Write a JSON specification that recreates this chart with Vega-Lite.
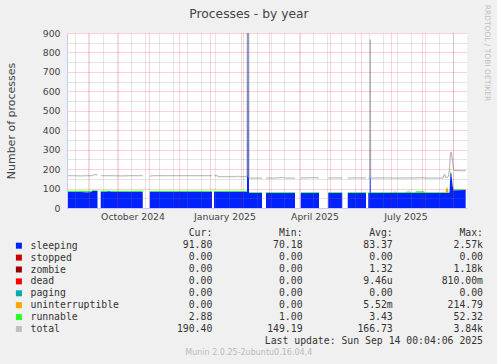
{
  "$schema": "https://vega.github.io/schema/vega-lite/v6.json",
  "width": 400,
  "height": 175,
  "autosize": {"type": "none"},
  "padding": {"left": 67, "top": 33, "right": 30, "bottom": 156},
  "background": "#f0f0f0",
  "config": {
    "view": {"fill": "#ffffff", "stroke": null},
    "axis": {"labelFont": "DejaVu Sans", "titleFont": "DejaVu Sans", "labelColor": "#444444", "titleColor": "#444444", "titleFontWeight": "normal", "domainColor": "#c8c8f0"}
  },
  "datasets": {
    "rank": [{"series": "sleeping", "rank": 0}, {"series": "uninterruptible", "rank": 1}, {"series": "runnable", "rank": 2}],
    "leg": [
      {"series": "header", "Cur": "Cur:\u00a0\u00a0", "Min": "Min:\u00a0\u00a0", "Avg": "Avg:\u00a0\u00a0", "Max": "Max:\u00a0\u00a0"},
      {"series": "sleeping", "Cur": "91.80\u00a0", "Min": "70.18\u00a0", "Avg": "83.37\u00a0", "Max": "2.57k"},
      {"series": "stopped", "Cur": "0.00\u00a0", "Min": "0.00\u00a0", "Avg": "0.00\u00a0", "Max": "0.00\u00a0"},
      {"series": "zombie", "Cur": "0.00\u00a0", "Min": "0.00\u00a0", "Avg": "1.32\u00a0", "Max": "1.18k"},
      {"series": "dead", "Cur": "0.00\u00a0", "Min": "0.00\u00a0", "Avg": "9.46u", "Max": "810.00m"},
      {"series": "paging", "Cur": "0.00\u00a0", "Min": "0.00\u00a0", "Avg": "0.00\u00a0", "Max": "0.00\u00a0"},
      {"series": "uninterruptible", "Cur": "0.00\u00a0", "Min": "0.00\u00a0", "Avg": "5.52m", "Max": "214.79\u00a0"},
      {"series": "runnable", "Cur": "2.88\u00a0", "Min": "1.00\u00a0", "Avg": "3.43\u00a0", "Max": "52.32\u00a0"},
      {"series": "total", "Cur": "190.40\u00a0", "Min": "149.19\u00a0", "Avg": "166.73\u00a0", "Max": "3.84k"},
      {"series": "update", "Max": "Last update: Sun Sep 14 00:04:06 2025"}
    ],
    "ts": [
      {"d": "2024-08-11T12:00:00Z", "g": 1, "sleeping": 82, "uninterruptible": 0, "runnable": 7, "total": 166},
      {"d": "2024-08-18T00:00:00Z", "g": 1, "sleeping": 82, "uninterruptible": 0, "runnable": 6, "total": 166},
      {"d": "2024-08-25T00:00:00Z", "g": 1, "sleeping": 82, "uninterruptible": 0, "runnable": 7, "total": 165},
      {"d": "2024-09-01T00:00:00Z", "g": 1, "sleeping": 81, "uninterruptible": 0, "runnable": 7, "total": 166},
      {"d": "2024-09-05T00:00:00Z", "g": 1, "sleeping": 82, "uninterruptible": 0, "runnable": 6, "total": 166},
      {"d": "2024-09-05T12:00:00Z", "g": 1, "sleeping": 88, "uninterruptible": 0, "runnable": 3, "total": 166},
      {"d": "2024-09-07T00:00:00Z", "g": 1, "sleeping": 88, "uninterruptible": 0, "runnable": 3, "total": 171},
      {"d": "2024-09-11T00:00:00Z", "g": 1, "sleeping": 88, "uninterruptible": 0, "runnable": 3, "total": 171},
      {"d": "2024-09-14T06:00:00Z", "g": 2, "sleeping": 82, "uninterruptible": 0, "runnable": 7, "total": 166},
      {"d": "2024-09-20T00:00:00Z", "g": 2, "sleeping": 82, "uninterruptible": 0, "runnable": 7, "total": 166},
      {"d": "2024-09-20T12:00:00Z", "g": 2, "sleeping": 86, "uninterruptible": 0, "runnable": 3, "total": 166},
      {"d": "2024-09-24T00:00:00Z", "g": 2, "sleeping": 86, "uninterruptible": 0, "runnable": 3, "total": 166},
      {"d": "2024-09-24T12:00:00Z", "g": 2, "sleeping": 82, "uninterruptible": 0, "runnable": 6, "total": 166},
      {"d": "2024-10-05T00:00:00Z", "g": 2, "sleeping": 82, "uninterruptible": 0, "runnable": 6, "total": 165},
      {"d": "2024-10-15T00:00:00Z", "g": 2, "sleeping": 82, "uninterruptible": 0, "runnable": 5, "total": 166},
      {"d": "2024-10-22T00:00:00Z", "g": 2, "sleeping": 82, "uninterruptible": 0, "runnable": 7, "total": 166},
      {"d": "2024-10-26T06:00:00Z", "g": 2, "sleeping": 82, "uninterruptible": 0, "runnable": 7, "total": 166},
      {"d": "2024-11-02T06:00:00Z", "g": 3, "sleeping": 82, "uninterruptible": 0, "runnable": 5, "total": 164},
      {"d": "2024-11-06T00:00:00Z", "g": 3, "sleeping": 82, "uninterruptible": 0, "runnable": 5, "total": 166},
      {"d": "2024-11-20T00:00:00Z", "g": 3, "sleeping": 82, "uninterruptible": 0, "runnable": 5, "total": 166},
      {"d": "2024-12-05T00:00:00Z", "g": 3, "sleeping": 82, "uninterruptible": 0, "runnable": 5, "total": 166},
      {"d": "2024-12-20T00:00:00Z", "g": 3, "sleeping": 82, "uninterruptible": 0, "runnable": 5, "total": 166},
      {"d": "2025-01-03T12:00:00Z", "g": 3, "sleeping": 82, "uninterruptible": 0, "runnable": 5, "total": 166},
      {"d": "2025-01-05T12:00:00Z", "g": 4, "sleeping": 82, "uninterruptible": 0, "runnable": 5, "total": 166},
      {"d": "2025-01-09T00:00:00Z", "g": 4, "sleeping": 82, "uninterruptible": 0, "runnable": 5, "total": 166},
      {"d": "2025-01-09T12:00:00Z", "g": 4, "sleeping": 82, "uninterruptible": 0, "runnable": 5, "total": 161},
      {"d": "2025-01-27T00:00:00Z", "g": 4, "sleeping": 82, "uninterruptible": 0, "runnable": 5, "total": 161},
      {"d": "2025-01-29T00:00:00Z", "g": 4, "sleeping": 82, "uninterruptible": 0, "runnable": 5, "total": 164},
      {"d": "2025-01-31T00:00:00Z", "g": 4, "sleeping": 82, "uninterruptible": 0, "runnable": 5, "total": 161},
      {"d": "2025-02-07T12:00:00Z", "g": 4, "sleeping": 82, "uninterruptible": 0, "runnable": 5, "total": 161},
      {"d": "2025-02-08T12:00:00Z", "g": 4, "sleeping": 2570, "uninterruptible": 0, "runnable": 5, "total": 3840},
      {"d": "2025-02-09T12:00:00Z", "g": 4, "sleeping": 77, "uninterruptible": 0, "runnable": 4, "total": 154},
      {"d": "2025-02-22T12:00:00Z", "g": 4, "sleeping": 77, "uninterruptible": 0, "runnable": 4, "total": 154},
      {"d": "2025-02-26T12:00:00Z", "g": 5, "sleeping": 77, "uninterruptible": 0, "runnable": 4, "total": 154},
      {"d": "2025-03-10T00:00:00Z", "g": 5, "sleeping": 77, "uninterruptible": 0, "runnable": 4, "total": 154},
      {"d": "2025-03-15T00:00:00Z", "g": 5, "sleeping": 77, "uninterruptible": 0, "runnable": 4, "total": 157},
      {"d": "2025-03-18T00:00:00Z", "g": 5, "sleeping": 77, "uninterruptible": 0, "runnable": 4, "total": 154},
      {"d": "2025-03-27T12:00:00Z", "g": 5, "sleeping": 77, "uninterruptible": 0, "runnable": 4, "total": 154},
      {"d": "2025-04-02T06:00:00Z", "g": 6, "sleeping": 77, "uninterruptible": 0, "runnable": 4, "total": 154},
      {"d": "2025-04-12T00:00:00Z", "g": 6, "sleeping": 77, "uninterruptible": 0, "runnable": 4, "total": 156},
      {"d": "2025-04-20T12:00:00Z", "g": 6, "sleeping": 77, "uninterruptible": 0, "runnable": 4, "total": 155},
      {"d": "2025-04-29T18:00:00Z", "g": 7, "sleeping": 77, "uninterruptible": 0, "runnable": 4, "total": 154},
      {"d": "2025-05-06T00:00:00Z", "g": 7, "sleeping": 77, "uninterruptible": 0, "runnable": 4, "total": 155},
      {"d": "2025-05-13T18:00:00Z", "g": 7, "sleeping": 77, "uninterruptible": 0, "runnable": 4, "total": 154},
      {"d": "2025-05-19T06:00:00Z", "g": 8, "sleeping": 77, "uninterruptible": 0, "runnable": 4, "total": 154},
      {"d": "2025-05-28T00:00:00Z", "g": 8, "sleeping": 77, "uninterruptible": 0, "runnable": 4, "total": 155},
      {"d": "2025-06-06T12:00:00Z", "g": 8, "sleeping": 77, "uninterruptible": 0, "runnable": 4, "total": 154},
      {"d": "2025-06-08T18:00:00Z", "g": 9, "sleeping": 77, "uninterruptible": 0, "runnable": 4, "total": 154},
      {"d": "2025-06-10T06:00:00Z", "g": 9, "sleeping": 77, "uninterruptible": 0, "runnable": 4, "total": 154},
      {"d": "2025-06-10T18:00:00Z", "g": 9, "sleeping": 780, "uninterruptible": 0, "runnable": 4, "total": 866},
      {"d": "2025-06-11T06:00:00Z", "g": 9, "sleeping": 77, "uninterruptible": 0, "runnable": 4, "total": 154},
      {"d": "2025-06-25T00:00:00Z", "g": 9, "sleeping": 77, "uninterruptible": 0, "runnable": 4, "total": 155},
      {"d": "2025-07-04T12:00:00Z", "g": 9, "sleeping": 77, "uninterruptible": 0, "runnable": 4, "total": 154},
      {"d": "2025-07-05T12:00:00Z", "g": 9, "sleeping": 77, "uninterruptible": 0, "runnable": 9, "total": 154},
      {"d": "2025-07-06T12:00:00Z", "g": 9, "sleeping": 77, "uninterruptible": 0, "runnable": 4, "total": 154},
      {"d": "2025-07-16T12:00:00Z", "g": 9, "sleeping": 77, "uninterruptible": 0, "runnable": 4, "total": 154},
      {"d": "2025-07-17T12:00:00Z", "g": 9, "sleeping": 77, "uninterruptible": 0, "runnable": 8, "total": 155},
      {"d": "2025-07-20T12:00:00Z", "g": 9, "sleeping": 77, "uninterruptible": 0, "runnable": 8, "total": 155},
      {"d": "2025-07-21T12:00:00Z", "g": 9, "sleeping": 77, "uninterruptible": 0, "runnable": 4, "total": 154},
      {"d": "2025-07-25T12:00:00Z", "g": 9, "sleeping": 77, "uninterruptible": 0, "runnable": 4, "total": 154},
      {"d": "2025-07-26T12:00:00Z", "g": 9, "sleeping": 77, "uninterruptible": 0, "runnable": 9, "total": 155},
      {"d": "2025-08-03T12:00:00Z", "g": 9, "sleeping": 77, "uninterruptible": 0, "runnable": 9, "total": 156},
      {"d": "2025-08-04T12:00:00Z", "g": 9, "sleeping": 77, "uninterruptible": 0, "runnable": 4, "total": 154},
      {"d": "2025-08-22T12:00:00Z", "g": 9, "sleeping": 77, "uninterruptible": 0, "runnable": 4, "total": 154},
      {"d": "2025-08-24T00:00:00Z", "g": 9, "sleeping": 77, "uninterruptible": 0, "runnable": 4, "total": 175},
      {"d": "2025-08-25T00:00:00Z", "g": 9, "sleeping": 77, "uninterruptible": 0, "runnable": 4, "total": 156},
      {"d": "2025-08-26T00:00:00Z", "g": 9, "sleeping": 77, "uninterruptible": 25, "runnable": 4, "total": 160},
      {"d": "2025-08-27T00:00:00Z", "g": 9, "sleeping": 77, "uninterruptible": 25, "runnable": 4, "total": 157},
      {"d": "2025-08-28T00:00:00Z", "g": 9, "sleeping": 77, "uninterruptible": 0, "runnable": 4, "total": 165},
      {"d": "2025-08-29T00:00:00Z", "g": 9, "sleeping": 80, "uninterruptible": 0, "runnable": 5, "total": 200},
      {"d": "2025-08-30T00:00:00Z", "g": 9, "sleeping": 185, "uninterruptible": 0, "runnable": 8, "total": 285},
      {"d": "2025-08-31T00:00:00Z", "g": 9, "sleeping": 170, "uninterruptible": 0, "runnable": 8, "total": 287},
      {"d": "2025-09-01T00:00:00Z", "g": 9, "sleeping": 120, "uninterruptible": 0, "runnable": 6, "total": 240},
      {"d": "2025-09-02T00:00:00Z", "g": 9, "sleeping": 91, "uninterruptible": 0, "runnable": 5, "total": 200},
      {"d": "2025-09-03T00:00:00Z", "g": 9, "sleeping": 91, "uninterruptible": 0, "runnable": 5, "total": 193},
      {"d": "2025-09-14T04:00:00Z", "g": 9, "sleeping": 92, "uninterruptible": 0, "runnable": 3, "total": 191}
    ]
  },
  "layer": [
    {
      "layer": [
        {
          "data": {"name": "ts"},
          "transform": [
            {"fold": ["sleeping", "uninterruptible", "runnable"], "as": ["series", "value"]},
            {"lookup": "series", "from": {"data": {"name": "rank"}, "key": "series", "fields": ["rank"]}}
          ],
          "mark": {"type": "area", "clip": true, "interpolate": "linear"},
          "encoding": {
            "x": {
              "field": "d", "type": "temporal",
              "scale": {"type": "utc", "domain": [{"year": 2024, "month": 8, "date": 11, "hours": 12, "utc": true}, {"year": 2025, "month": 9, "date": 15, "hours": 12, "utc": true}]},
              "axis": {
                "orient": "bottom", "labels": false, "ticks": false, "domain": false, "title": null, "zindex": 1,
                "grid": true, "gridColor": "#ff0000", "gridOpacity": 0.35, "gridDash": [1, 1],
                "values": [
                  {"year": 2024, "month": 9, "date": 1, "utc": true}, {"year": 2024, "month": 10, "date": 1, "utc": true},
                  {"year": 2024, "month": 11, "date": 1, "utc": true}, {"year": 2024, "month": 12, "date": 1, "utc": true},
                  {"year": 2025, "month": 1, "date": 1, "utc": true}, {"year": 2025, "month": 2, "date": 1, "utc": true},
                  {"year": 2025, "month": 3, "date": 1, "utc": true}, {"year": 2025, "month": 4, "date": 1, "utc": true},
                  {"year": 2025, "month": 5, "date": 1, "utc": true}, {"year": 2025, "month": 6, "date": 1, "utc": true},
                  {"year": 2025, "month": 7, "date": 1, "utc": true}, {"year": 2025, "month": 8, "date": 1, "utc": true},
                  {"year": 2025, "month": 9, "date": 1, "utc": true}
                ]
              }
            },
            "y": {
              "field": "value", "type": "quantitative", "stack": "zero", "impute": null,
              "scale": {"domain": [0, 900], "nice": false},
              "axis": {
                "orient": "left", "values": [0, 100, 200, 300, 400, 500, 600, 700, 800, 900],
                "grid": true, "gridColor": "#ff0000", "gridOpacity": 0.35, "gridDash": [1, 1],
                "ticks": false, "labelPadding": 7, "labelFontSize": 9.3, "domain": true, "domainColor": "#c8c8f0",
                "title": "Number of processes", "titleFontSize": 11, "titleX": -52.7, "titleY": 87.5, "titleAngle": 270,
                "titleBaseline": "alphabetic", "titleAlign": "center", "zindex": 1
              }
            },
            "color": {
              "field": "series", "type": "nominal",
              "scale": {
                "domain": ["sleeping", "stopped", "zombie", "dead", "paging", "uninterruptible", "runnable", "total"],
                "range": ["#0022ff", "#cc0000", "#990000", "#ff0000", "#00aaaa", "#ffa500", "#22ff22", "#c0c0c0"]
              },
              "legend": {
                "orient": "none", "legendX": -53, "legendY": 207.8, "direction": "vertical", "title": null,
                "symbolType": "square", "symbolSize": 36, "symbolStrokeWidth": 0, "symbolOpacity": 1,
                "labelFont": "DejaVu Sans Mono", "labelFontSize": 9.8, "labelColor": "#333333",
                "labelOffset": 6.7, "rowPadding": 0.9, "padding": 0, "offset": 0
              }
            },
            "detail": {"field": "g", "type": "nominal"},
            "order": {"field": "rank", "type": "quantitative"}
          }
        },
        {
          "data": {"name": "ts"},
          "mark": {"type": "line", "clip": true, "color": "#b0b0b0", "strokeWidth": 1},
          "encoding": {
            "x": {
              "field": "d", "type": "temporal",
              "scale": {"type": "utc", "domain": [{"year": 2024, "month": 8, "date": 11, "hours": 12, "utc": true}, {"year": 2025, "month": 9, "date": 15, "hours": 12, "utc": true}]},
              "axis": {
                "orient": "bottom", "labelExpr": "utcFormat(datum.value, '%B %Y')", "grid": false, "ticks": false,
                "labelPadding": 4, "labelFontSize": 9.3, "labelFlush": false, "labelOverlap": false, "labelSeparation": 0,
                "domain": true, "domainColor": "#c8c8f0", "zindex": 1,
                "values": [
                  {"year": 2024, "month": 10, "date": 16, "utc": true}, {"year": 2025, "month": 1, "date": 16, "utc": true},
                  {"year": 2025, "month": 4, "date": 16, "utc": true}, {"year": 2025, "month": 7, "date": 16, "utc": true}
                ],
                "title": "Munin 2.0.25-2ubuntu0.16.04.4", "titleX": 181.3, "titleY": 144.7, "titleAlign": "center",
                "titleBaseline": "middle", "titleFontSize": 8, "titleColor": "#bbbbbb", "titleAngle": 0
              }
            },
            "y": {
              "field": "total", "type": "quantitative",
              "scale": {"domain": [0, 900], "nice": false},
              "axis": {
                "orient": "left", "values": [50, 150, 250, 350, 450, 550, 650, 750, 850],
                "grid": true, "gridColor": "#808080", "gridOpacity": 0.4, "gridDash": [1, 1],
                "labels": false, "ticks": false, "domain": false, "title": null, "zindex": 1
              }
            },
            "detail": {"field": "g", "type": "nominal"}
          }
        },
        {
          "data": {"name": "ts"},
          "mark": {"type": "point", "opacity": 0},
          "encoding": {
            "x": {
              "field": "d", "type": "temporal",
              "scale": {"type": "utc", "domain": [{"year": 2024, "month": 8, "date": 11, "hours": 12, "utc": true}, {"year": 2025, "month": 9, "date": 15, "hours": 12, "utc": true}]},
              "axis": {
                "orient": "bottom", "labels": false, "ticks": false, "domain": false, "title": null, "zindex": 1,
                "grid": true, "gridColor": "#808080", "gridOpacity": 0.4, "gridDash": [1, 1],
                "values": [
                  {"year": 2024, "month": 8, "date": 19, "utc": true}, {"year": 2024, "month": 9, "date": 2, "utc": true},
                  {"year": 2024, "month": 9, "date": 16, "utc": true}, {"year": 2024, "month": 9, "date": 30, "utc": true},
                  {"year": 2024, "month": 10, "date": 14, "utc": true}, {"year": 2024, "month": 10, "date": 28, "utc": true},
                  {"year": 2024, "month": 11, "date": 11, "utc": true}, {"year": 2024, "month": 11, "date": 25, "utc": true},
                  {"year": 2024, "month": 12, "date": 9, "utc": true}, {"year": 2024, "month": 12, "date": 23, "utc": true},
                  {"year": 2025, "month": 1, "date": 6, "utc": true}, {"year": 2025, "month": 1, "date": 20, "utc": true},
                  {"year": 2025, "month": 2, "date": 3, "utc": true}, {"year": 2025, "month": 2, "date": 17, "utc": true},
                  {"year": 2025, "month": 3, "date": 3, "utc": true}, {"year": 2025, "month": 3, "date": 17, "utc": true},
                  {"year": 2025, "month": 3, "date": 31, "utc": true}, {"year": 2025, "month": 4, "date": 14, "utc": true},
                  {"year": 2025, "month": 4, "date": 28, "utc": true}, {"year": 2025, "month": 5, "date": 12, "utc": true},
                  {"year": 2025, "month": 5, "date": 26, "utc": true}, {"year": 2025, "month": 6, "date": 9, "utc": true},
                  {"year": 2025, "month": 6, "date": 23, "utc": true}, {"year": 2025, "month": 7, "date": 7, "utc": true},
                  {"year": 2025, "month": 7, "date": 21, "utc": true}, {"year": 2025, "month": 8, "date": 4, "utc": true},
                  {"year": 2025, "month": 8, "date": 18, "utc": true}, {"year": 2025, "month": 9, "date": 1, "utc": true}
                ]
              }
            },
            "y": {
              "field": "total", "type": "quantitative",
              "scale": {"domain": [0, 900], "nice": false},
              "axis": {
                "orient": "right", "labels": false, "ticks": false, "domain": false, "grid": false,
                "title": "RRDTOOL / TOBI OETIKER", "titleAngle": 90, "titleX": 19, "titleY": 19.5,
                "titleAlign": "center", "titleBaseline": "middle", "titleFontSize": 7.5, "titleColor": "#c0c0c0"
              }
            }
          }
        },
        {
          "data": {"name": "ts"},
          "mark": {"type": "point", "opacity": 0},
          "encoding": {
            "x": {
              "field": "d", "type": "temporal",
              "scale": {"type": "utc", "domain": [{"year": 2024, "month": 8, "date": 11, "hours": 12, "utc": true}, {"year": 2025, "month": 9, "date": 15, "hours": 12, "utc": true}]},
              "axis": {
                "orient": "top", "labels": false, "ticks": false, "domain": false, "grid": false, "values": [],
                "title": "Processes - by year", "titleX": 181.5, "titleY": -15.3, "titleAlign": "center",
                "titleBaseline": "alphabetic", "titleFontSize": 12.3, "titleColor": "#444444", "titleAngle": 0
              }
            },
            "y": {"field": "total", "type": "quantitative", "scale": {"domain": [0, 900], "nice": false}, "axis": null}
          }
        },
        {
          "mark": {"type": "point", "shape": "triangle-up", "filled": true, "size": 30, "color": "#c8c8f0", "opacity": 1},
          "encoding": {
            "x": {"datum": {"year": 2024, "month": 8, "date": 11, "hours": 12, "utc": true}, "type": "temporal", "axis": null},
            "y": {"datum": 916, "type": "quantitative", "axis": null}
          }
        },
        {
          "mark": {"type": "point", "shape": "triangle-right", "filled": true, "size": 30, "color": "#c8c8f0", "opacity": 1},
          "encoding": {
            "x": {"datum": {"year": 2025, "month": 9, "date": 18, "hours": 12, "utc": true}, "type": "temporal", "axis": null},
            "y": {"datum": 0, "type": "quantitative", "axis": null}
          }
        }
      ],
      "resolve": {"axis": {"x": "independent", "y": "independent"}}
    },
    {
      "data": {"name": "leg"},
      "transform": [
        {"fold": ["Cur", "Min", "Avg", "Max"], "as": ["col", "txt"]},
        {"filter": "datum.txt != null"}
      ],
      "mark": {"type": "text", "align": "right", "baseline": "middle", "font": "DejaVu Sans Mono", "fontSize": 9.8, "color": "#333333"},
      "encoding": {
        "x": {"field": "col", "type": "nominal", "scale": {"type": "point", "domain": ["Cur", "Min", "Avg", "Max"], "range": [145.3, 416], "padding": 0}, "axis": null},
        "y": {"field": "series", "type": "nominal", "scale": {"type": "point", "domain": ["header", "sleeping", "stopped", "zombie", "dead", "paging", "uninterruptible", "runnable", "total", "update"], "range": [200.3, 308.3], "padding": 0}, "axis": null},
        "text": {"field": "txt", "type": "nominal"}
      }
    }
  ],
  "resolve": {"scale": {"x": "independent", "y": "independent"}}
}
